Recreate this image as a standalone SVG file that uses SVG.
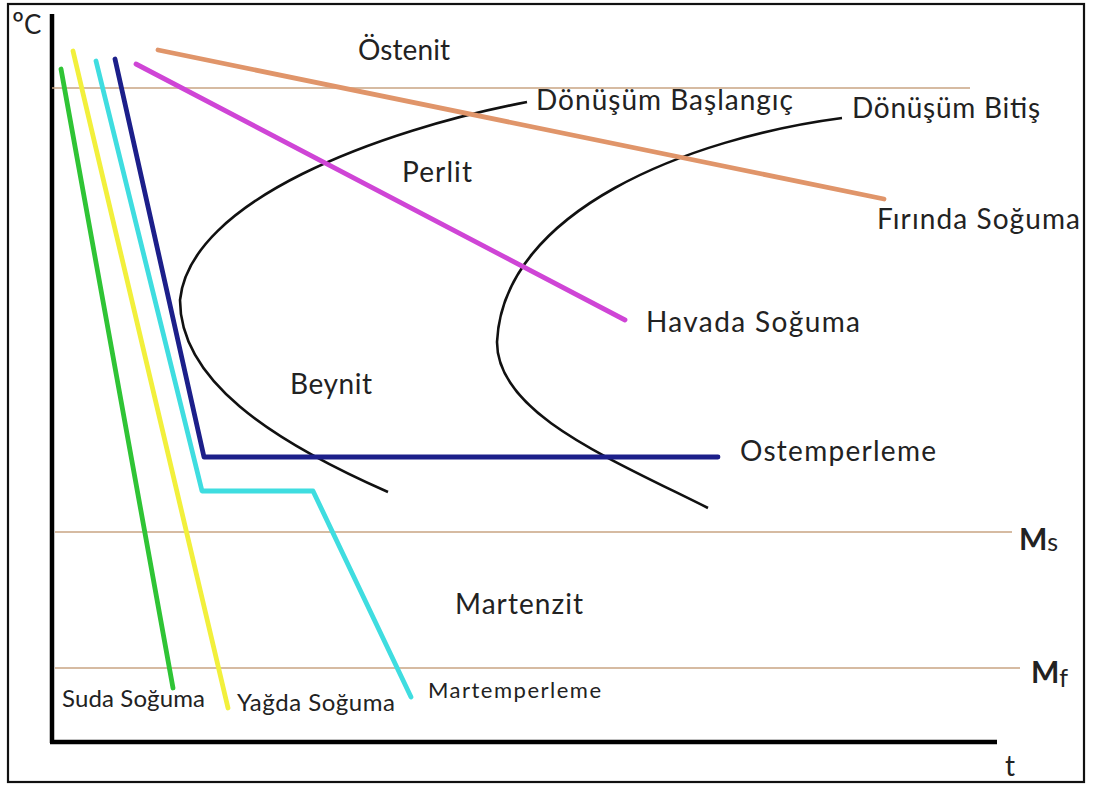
<svg xmlns="http://www.w3.org/2000/svg" width="1095" height="785" viewBox="0 0 1095 785">
<style>
.lbl{font-family:Lato,"Liberation Sans",sans-serif;font-size:28px;fill:#222}
.sm{font-size:24px}
.ref{stroke:#c9a583;stroke-width:1.6;fill:none}
.cv{stroke:#111;stroke-width:2.6;fill:none}
.cool{fill:none;stroke-width:4.8;stroke-linecap:round;stroke-linejoin:round}
</style>
<rect x="0" y="0" width="1095" height="785" fill="#fff"/>
<rect x="8" y="4" width="1076" height="778" fill="none" stroke="#111" stroke-width="2.2"/>
<g id="axes">
<line x1="52" y1="14" x2="52" y2="743" stroke="#000" stroke-width="4.5"/>
<line x1="50" y1="742" x2="997" y2="742" stroke="#000" stroke-width="4.5"/>
<text class="lbl" x="12" y="34" style="font-size:26px"><tspan style="font-size:30px">º</tspan>C</text>
<text class="lbl" x="1005" y="776">t</text>
</g>
<g id="reference-lines">
<line class="ref" x1="52" y1="88" x2="970" y2="88"/>
<line class="ref" x1="55" y1="532" x2="1012" y2="532"/>
<line class="ref" x1="55" y1="668" x2="1020" y2="668"/>
</g>
<g id="connectors">
<path class="cv" d="M527,102 C380,130 190,200 180,300 C180,380 270,440 388,492"/>
<path class="cv" d="M842,118 C690,138 503,210 497,342 C497,412 604,456 708,508"/>
<polyline class="cool" stroke="#e0956a" points="158,50 884,199"/>
<polyline class="cool" stroke="#cf45d6" points="136,64 625,320"/>
<polyline class="cool" stroke="#2fc435" points="61,69 173,688"/>
<polyline class="cool" stroke="#f2f03c" points="73,51 228,708"/>
<polyline class="cool" stroke="#3fdde0" points="96,61 202,491 313,491 411,697"/>
<polyline class="cool" stroke="#1c1f8a" points="115,59 204,457 718,457"/>
</g>
<g id="labels">
<text class="lbl" x="358" y="60" textLength="92" lengthAdjust="spacing">Östenit</text>
<text class="lbl" x="536" y="110" textLength="257" lengthAdjust="spacing">Dönüşüm Başlangıç</text>
<text class="lbl" x="852" y="118" textLength="188" lengthAdjust="spacing">Dönüşüm Bitiş</text>
<text class="lbl" x="402" y="182" textLength="70" lengthAdjust="spacing">Perlit</text>
<text class="lbl" x="877" y="229" textLength="203" lengthAdjust="spacing">Fırında Soğuma</text>
<text class="lbl" x="646" y="332" textLength="214" lengthAdjust="spacing">Havada Soğuma</text>
<text class="lbl" x="290" y="394" textLength="82" lengthAdjust="spacing">Beynit</text>
<text class="lbl" x="740" y="461" textLength="196" lengthAdjust="spacing">Ostemperleme</text>
<text class="lbl" x="1019" y="550"><tspan font-weight="bold" style="font-size:30px">M</tspan><tspan style="font-size:25px" dy="1">s</tspan></text>
<text class="lbl" x="455" y="614" textLength="128" lengthAdjust="spacing">Martenzit</text>
<text class="lbl" x="1031" y="683"><tspan font-weight="bold" style="font-size:30px">M</tspan><tspan style="font-size:25px" dy="4">f</tspan></text>
<text class="lbl sm" x="62" y="707" textLength="143" lengthAdjust="spacing">Suda Soğuma</text>
<text class="lbl sm" x="237" y="711" textLength="158" lengthAdjust="spacing">Yağda Soğuma</text>
<text class="lbl" x="428" y="698" style="font-size:22px" textLength="173" lengthAdjust="spacing">Martemperleme</text>
</g>
</svg>
